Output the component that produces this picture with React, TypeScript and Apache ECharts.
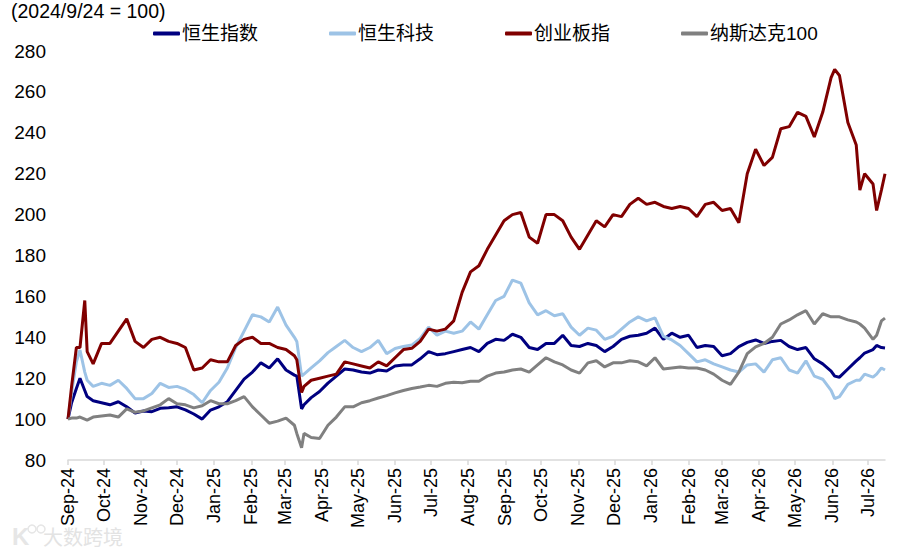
import React, { useEffect, useRef } from 'react';
import * as echarts from 'echarts';

// sample dates (roughly weekly, plus a few days around the big moves)
const dates = [
  '2024-09-24', '2024-09-27', '2024-10-01', '2024-10-04', '2024-10-08', '2024-10-10', '2024-10-15', '2024-10-22',
  '2024-10-29', '2024-11-05', '2024-11-12', '2024-11-19', '2024-11-26', '2024-12-03', '2024-12-10', '2024-12-17',
  '2024-12-24', '2024-12-31', '2025-01-07', '2025-01-14', '2025-01-21', '2025-01-28', '2025-02-04', '2025-02-11',
  '2025-02-18', '2025-02-25', '2025-03-04', '2025-03-11', '2025-03-18', '2025-03-25', '2025-04-01', '2025-04-03',
  '2025-04-07', '2025-04-09', '2025-04-15', '2025-04-22', '2025-04-29', '2025-05-06', '2025-05-13', '2025-05-20',
  '2025-05-27', '2025-06-03', '2025-06-10', '2025-06-17', '2025-06-24', '2025-07-01', '2025-07-08', '2025-07-15',
  '2025-07-22', '2025-07-29', '2025-08-05', '2025-08-12', '2025-08-19', '2025-08-26', '2025-09-02', '2025-09-09',
  '2025-09-16', '2025-09-23', '2025-09-30', '2025-10-07', '2025-10-14', '2025-10-21', '2025-10-28', '2025-11-04',
  '2025-11-11', '2025-11-18', '2025-11-25', '2025-12-02', '2025-12-09', '2025-12-16', '2025-12-23', '2025-12-30',
  '2026-01-06', '2026-01-13', '2026-01-20', '2026-01-27', '2026-02-03', '2026-02-10', '2026-02-17', '2026-02-24',
  '2026-03-03', '2026-03-10', '2026-03-17', '2026-03-24', '2026-03-31', '2026-04-07', '2026-04-14', '2026-04-21',
  '2026-04-28', '2026-05-05', '2026-05-12', '2026-05-19', '2026-05-26', '2026-06-02', '2026-06-09', '2026-06-16',
  '2026-06-23', '2026-06-26', '2026-06-30', '2026-07-07', '2026-07-14', '2026-07-17', '2026-07-21', '2026-07-28',
  '2026-07-31', '2026-08-04', '2026-08-07',
];

const hsi = [
  100, 108, 115, 120, 114, 111, 109, 108, 107, 108.5, 106, 103, 104, 103.6, 105.3, 105.5,
  106, 104.5, 102.5, 100, 104.4, 106, 108.5, 114, 119.5, 123, 127.5, 125, 129.5, 124, 121.5, 121,
  105, 107, 110.5, 113.5, 117.6, 121, 124.5, 124, 123, 122.5, 124, 123.5, 126, 126.5, 126.5, 129.5,
  133, 131.5, 132, 133, 134, 135, 133, 137, 139, 138.5, 141.5, 140, 135, 134, 137, 137,
  141, 136, 135.5, 137, 136, 133, 135.5, 139, 140.5, 141, 142, 144.5, 139, 142, 140, 141,
  135, 136, 135.5, 131, 132, 135.4, 137.5, 138.7, 137, 138, 138.5, 135.5, 134, 135, 129.5, 127,
  123.5, 121, 120.5, 124.5, 128.5, 130, 132.3, 134, 136, 135, 134.8,
];

const hstech = [
  100, 113, 128, 133.8, 123, 119, 116, 117.5, 116.5, 119, 115, 110, 110, 112.5, 117.5, 115.5,
  116, 114.5, 112, 108, 114, 118, 125, 135, 143, 151, 150, 147.5, 154.8, 146, 140, 138,
  121, 122, 125, 128.5, 132.5, 135.5, 138.5, 135, 133, 135, 138.5, 132, 134.5, 135.5, 136.2, 139.5,
  145, 141, 143, 142, 143, 147.5, 144, 151, 158, 160, 168, 166.5, 156.8, 151, 153, 150.5,
  151.5, 145, 141, 144.5, 143.5, 139, 140.5, 144, 147.5, 150, 148, 149.5, 140.5, 138.7, 136, 132,
  128, 129, 127, 125.5, 124, 123, 126.5, 127, 123, 129, 130, 124, 122.5, 128.5, 121, 119.5,
  114, 110, 111, 117, 119, 119, 122, 120.5, 122, 125, 124,
];

const chinext = [
  100, 116, 135, 135, 158, 133, 127, 137, 137, 143, 149, 138, 135, 139, 140, 138,
  137, 135, 124, 125, 129, 128, 128, 136, 139, 140, 137, 137, 135, 134, 131, 129,
  113, 116, 119, 120, 121, 122, 128, 127, 126, 125, 128, 126, 130, 134, 134.6, 138,
  144, 143, 144, 148, 162, 172, 175, 183, 190, 197, 200, 201, 189, 186, 200, 200,
  197, 189, 183, 190, 197, 194, 200, 199, 205, 208, 205, 206, 204, 203, 204, 203,
  199, 205, 206, 202, 203, 196, 220, 232, 224, 228, 242, 243, 250, 248, 238, 250,
  267, 271, 268, 245, 234, 212, 220, 215, 202, 212, 220,
];

const ndx = [
  100, 100.5, 100.5, 101, 100, 99.5, 101, 101.5, 102, 101, 105, 103.3, 104, 105.5, 107, 110,
  107.5, 107, 105.5, 106.5, 109, 107.5, 107.5, 109, 111, 106, 102, 98, 99, 100.5, 97, 93,
  86, 93, 91, 90.5, 97, 101, 106, 106, 108, 109, 110.3, 111.5, 112.8, 114, 115, 115.7,
  116.5, 116, 117.5, 118, 117.8, 118.5, 118.5, 121, 122.5, 123, 124, 124.5, 123, 126.5, 130, 128,
  126.5, 124, 122.5, 127.5, 128.5, 125.5, 127.5, 127.5, 128.5, 128, 126, 130, 124.5, 125, 125.5, 125,
  125, 124, 122, 119, 117, 123, 132, 135.3, 137, 140, 146.5, 148.5, 151, 153, 146.5, 151.5,
  150, 150, 150, 148.5, 147.5, 146.5, 144.5, 139, 141, 148, 149.4,
];

const seriesNames = ['恒生指数', '恒生科技', '创业板指', '纳斯达克100'];
const seriesColors = ['#000080', '#9dc3e6', '#800000', '#808080'];
const seriesValues = [hsi, hstech, chinext, ndx];

const monthNames = ['Jan', 'Feb', 'Mar', 'Apr', 'May', 'Jun', 'Jul', 'Aug', 'Sep', 'Oct', 'Nov', 'Dec'];

const FONT = '"Liberation Sans", Arial, "Noto Sans CJK SC", sans-serif';

// every calendar day of the axis
function allDays(from: string, to: string) {
  const out: string[] = [];
  const d = new Date(from + 'T00:00:00Z');
  const end = new Date(to + 'T00:00:00Z');
  while (d <= end) {
    out.push(d.toISOString().slice(0, 10));
    d.setUTCDate(d.getUTCDate() + 1);
  }
  return out;
}

const App: React.FC = () => {
  const chartRef = useRef<HTMLDivElement>(null);

  useEffect(() => {
    if (!chartRef.current) return;
    const chart = echarts.init(chartRef.current, undefined, { renderer: 'svg' });

    const days = allDays(dates[0], dates[dates.length - 1]);
    const isTick = (_i: number, v: string) => v.slice(8) === '24';

    const series = seriesNames.map((name, s) => {
      const lookup = new Map<string, number>();
      dates.forEach((d, i) => lookup.set(d, seriesValues[s][i]));
      return {
        name,
        type: 'line',
        data: days.map(d => (lookup.has(d) ? lookup.get(d) : null)),
        connectNulls: true,
        symbol: 'none',
        showSymbol: false,
        lineStyle: { color: seriesColors[s], width: 3 },
        itemStyle: { color: seriesColors[s] },
      };
    });

    chart.setOption({
      animation: false,
      backgroundColor: '#fff',
      textStyle: { fontFamily: FONT },
      title: {
        text: '(2024/9/24 = 100)',
        left: 11,
        top: 1,
        padding: 0,
        textStyle: { fontFamily: FONT, fontSize: 19.5, fontWeight: 'normal', color: '#000' },
      },
      legend: {
        left: 153,
        top: 24,
        icon: 'roundRect',
        itemWidth: 27,
        itemHeight: 4,
        itemGap: 71,
        padding: 0,
        textStyle: { fontFamily: FONT, fontSize: 19, color: '#000', padding: [0, 0, 0, -3] },
        data: seriesNames,
      },
      grid: { left: 68, right: 15, top: 51, bottom: 92 },
      xAxis: {
        type: 'category',
        data: days,
        boundaryGap: false,
        axisLine: { lineStyle: { color: '#d9d9d9', width: 1.5 } },
        axisTick: { interval: isTick, length: 5, lineStyle: { color: '#d9d9d9', width: 1.5 } },
        axisLabel: {
          interval: isTick,
          rotate: 90,
          margin: 8,
          fontFamily: FONT,
          fontSize: 18,
          color: '#000',
          formatter: (v: string) => `${monthNames[Number(v.slice(5, 7)) - 1]}-${v.slice(2, 4)}`,
        },
        splitLine: { show: false },
      },
      yAxis: {
        type: 'value',
        min: 80,
        max: 280,
        interval: 20,
        axisLine: { show: false },
        axisTick: { show: false },
        splitLine: { show: false },
        axisLabel: { fontFamily: FONT, fontSize: 19, color: '#000', margin: 22 },
      },
      graphic: [
        {
          type: 'text',
          left: 12,
          top: 524,
          style: { text: 'K', fontFamily: FONT, fontSize: 24, fontWeight: 'bold', fill: '#e6e6e6' },
        },
        { type: 'circle', shape: { cx: 32, cy: 529, r: 4 }, style: { fill: 'none', stroke: '#e6e6e6', lineWidth: 1.5 } },
        { type: 'circle', shape: { cx: 41, cy: 529, r: 4 }, style: { fill: 'none', stroke: '#e6e6e6', lineWidth: 1.5 } },
        {
          type: 'text',
          left: 43,
          top: 526,
          style: { text: '大数跨境', fontFamily: '"Noto Sans CJK SC", sans-serif', fontSize: 20, fill: '#e3e3e3' },
        },
      ],
      series,
    });

    return () => chart.dispose();
  }, []);

  return (
    <div
      ref={chartRef}
      style={{ position: 'fixed', left: 0, top: 0, width: 900, height: 552 }}
    />
  );
};

export default App;
